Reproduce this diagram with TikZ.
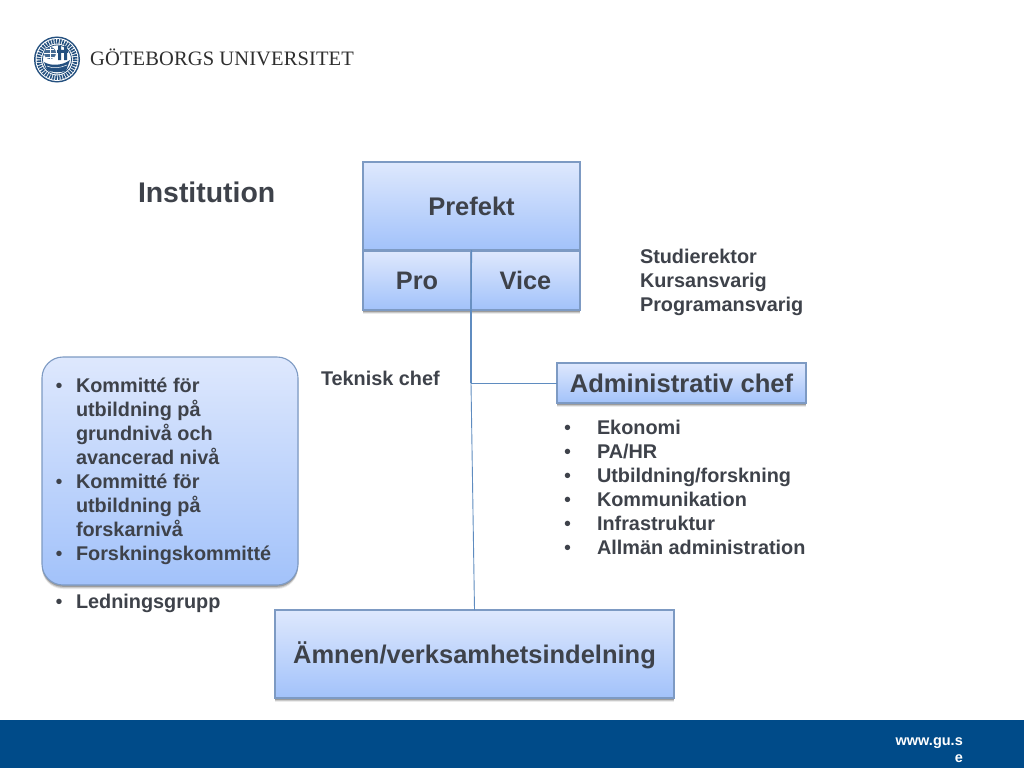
\documentclass[tikz,border=0pt]{standalone}
\usepackage{fontspec}
\setmainfont{Liberation Sans}
\newfontfamily\logofont[LetterSpace=0.6]{Liberation Serif}
\definecolor{ink}{HTML}{3E424A}
\definecolor{topc}{HTML}{DEE8FD}
\definecolor{midc}{HTML}{C5D8FB}
\definecolor{botc}{HTML}{A2C2FA}
\definecolor{edge}{HTML}{7D9AC3}
\definecolor{conn}{HTML}{5F8CC0}
\definecolor{guband}{HTML}{004B89}
\definecolor{seal}{HTML}{24507F}
\newcommand{\blt}{\makebox[21pt][l]{\hspace*{.5pt}\mdseries •}}
\newcommand{\blu}{\hspace*{21pt}}
\newcommand{\bltw}{\makebox[33pt][l]{\mdseries •}}
\tikzset{
  x=1pt,y=-1pt,
  softshadow/.style={
    preaction={fill=black,fill opacity=.08,transform canvas={yshift=-4pt}},
    preaction={fill=black,fill opacity=.14,transform canvas={yshift=-3pt}},
    preaction={fill=black,fill opacity=.22,transform canvas={yshift=-1.8pt}}},
  gbox/.style={softshadow,draw=edge,line width=1.1pt,top color=topc,bottom color=botc,
    shading angle=0,inner sep=0pt,outer sep=0pt,text=ink,font=\bfseries,text height=18.5pt,text depth=0pt},
  label/.style={inner sep=0pt,outer sep=0pt,text=ink,font=\bfseries\fontsize{19.85}{24}\selectfont,align=left},
  link/.style={draw=conn,line width=1.2pt},
  thinlink/.style={draw=conn,line width=.9pt},
}
\begin{document}
\begin{tikzpicture}
\useasboundingbox (0,0) rectangle (1024,768);
\fill[white] (0,0) rectangle (1024,768);
% band
\fill[guband] (0,720) rectangle (1024,768);
\node[anchor=east,inner sep=0pt,text=white,font=\bfseries\fontsize{14.5}{17}\selectfont,align=right] (web) at (963,750.5) {www.gu.s\\e};
% seal
\fill[seal] (57,59.5) circle (23);
\fill[white] (57,59.5) circle (21.5);
\draw[seal,line width=4.5pt,dash pattern=on 1.6pt off 1pt] (57,59.5) circle (18.2);
\fill[white] (57,59.5) circle (15);
\draw[seal,line width=.8pt] (57,59.5) circle (14.5);
\fill[seal!85] (50,53) circle (6);
\draw[white,line width=.5pt] (44,53) -- (56,53) (50,47) -- (50,59) (46,49) -- (54,49) (46,57) -- (54,57);
\fill[seal] (58,46) rectangle (61,60) (64,46) rectangle (67,60) (57,50) rectangle (68,53);
\fill[seal] (44,62) .. controls (50,66) and (62,66) .. (70,60) -- (66,71) .. controls (58,73) and (50,72) .. (47,70) -- cycle;
\draw[white,line width=.5pt] (47,66) .. controls (53,69) and (60,68) .. (67,65);
\node[anchor=base west,inner sep=0pt,text=black!82,font=\logofont\fontsize{20.5}{21}\selectfont] (logo) at (90,66) {GÖTEBORGS UNIVERSITET};
% title
\node[label,anchor=base west,font=\bfseries\fontsize{28.4}{32}\selectfont] (inst) at (138,202) {Institution};
% boxes
\node[gbox,minimum width=217pt,minimum height=88pt,font=\bfseries\fontsize{25.5}{28}\selectfont] (prefekt) at (471.5,206) {Prefekt};
\node[gbox,minimum width=108pt,minimum height=59pt,font=\bfseries\fontsize{25.3}{28}\selectfont] (pro) at (417,280.5) {Pro};
\node[gbox,minimum width=109pt,minimum height=59pt,font=\bfseries\fontsize{25.3}{28}\selectfont] (vice) at (525.5,280.5) {Vice};
\node[gbox,minimum width=249pt,minimum height=40pt,font=\bfseries\fontsize{25.6}{28}\selectfont] (admin) at (681.5,383) {Administrativ chef};
\node[gbox,minimum width=399pt,minimum height=88pt,font=\bfseries\fontsize{25.5}{30}\selectfont] (amnen) at (474.5,654) {Ämnen/verksamhetsindelning};
\node[gbox,rounded corners=21pt,minimum width=256pt,minimum height=228pt] (komm) at (170,471) {};
% connectors
\coordinate (junc) at (vice.south west |- admin.west);
\draw[link] (prefekt.south) -- (vice.south west);
\draw[link] (vice.south west) -- (junc);
\draw[thinlink] (junc) -- (admin.west);
\draw[thinlink] (junc) -- (amnen.north);
% labels
\node[label,anchor=north west] (studie) at (640,249) {Studierektor\\Kursansvarig\\Programansvarig};
\node[label,anchor=north west] (teknisk) at (321,371) {Teknisk chef};
\node[label,anchor=north west] (kommtxt) at (55,378) {\blt Kommitté för\\\blu utbildning på\\\blu grundnivå och\\\blu avancerad nivå\\\blt Kommitté för\\\blu utbildning på\\\blu forskarnivå\\\blt Forskningskommitté};
\node[label,anchor=north west] (led) at (55,594) {\blt Ledningsgrupp};
\node[label,anchor=north west] (admtxt) at (564,420) {\bltw Ekonomi\\\bltw PA/HR\\\bltw Utbildning/forskning\\\bltw Kommunikation\\\bltw Infrastruktur\\\bltw Allmän administration};
\end{tikzpicture}
\end{document}
